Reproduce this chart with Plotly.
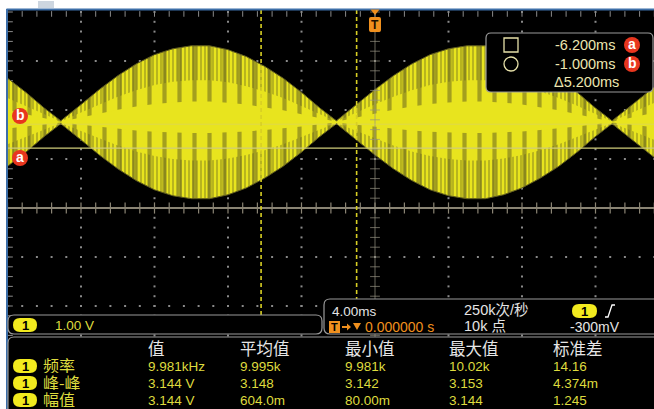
import plotly.graph_objects as go

# ---- channel 1 trace: envelope of the beat signal (ms, volts) ----
TIME_MS = [-20, -19, -18, -17.1, -16, -15, -14, -13, -12, -11, -10, -9, -8, -7, -6,
           -5, -4, -3, -2.1, -1, 0, 1, 2, 3, 4, 5, 6, 7, 8, 9, 10, 11, 12, 12.9,
           14, 15, 15.2]
HALF_AMP_V = [0.90, 0.61, 0.29, 0.03, 0.36, 0.67, 0.95, 1.19, 1.38, 1.50, 1.56,
              1.56, 1.48, 1.34, 1.14, 0.90, 0.61, 0.29, 0.03, 0.36, 0.67, 0.95,
              1.19, 1.38, 1.50, 1.56, 1.56, 1.48, 1.34, 1.14, 0.90, 0.61, 0.29,
              0.03, 0.36, 0.67, 0.72]
TRACE_CENTER_V = 1.75

# ---- cursors ----
CURSOR_A_MS = -6.2
CURSOR_B_MS = -1.0
CURSOR_A_V = 1.22
CURSOR_B_V = 1.71
CURSOR_TEXT = ["-6.200ms", "-1.000ms", "Δ5.200ms"]

# ---- scope settings ----
VOLTS_PER_DIV = "1.00 V"
TIME_PER_DIV = "4.00ms"
SAMPLE_RATE = "250k次/秒"
RECORD_LEN = "10k 点"
TRIG_POS = "0.000000 s"
TRIG_LEVEL = "-300mV"

# ---- measurement table ----
MEAS_COLUMNS = ["值", "平均值", "最小值", "最大值", "标准差"]
MEAS_LABELS = ["频率", "峰-峰", "幅值"]
MEAS_VALUES = [
    ["9.981kHz", "9.995k", "9.981k", "10.02k", "14.16"],
    ["3.144 V", "3.148", "3.142", "3.153", "4.374m"],
    ["3.144 V", "604.0m", "80.00m", "3.144", "1.245"],
]

W, H = 654, 409
YEL = "#e8e41e"
DARK = "#5e5a1e"
TXT_Y = "#dedb3e"
ORANGE = "#f0901e"
GREY_T = "#e4e4e4"
FONT = "Liberation Sans, Noto Sans CJK SC, sans-serif"
CJK = "Noto Sans CJK SC, sans-serif"


def px(x):
    return x / W


def py(y):
    return 1 - y / H


def rrect(x0, y0, x1, y1, r):
    pts = [("M", x0 + r, y0), ("L", x1 - r, y0), ("Q", x1, y0, x1, y0 + r),
           ("L", x1, y1 - r), ("Q", x1, y1, x1 - r, y1), ("L", x0 + r, y1),
           ("Q", x0, y1, x0, y1 - r), ("L", x0, y0 + r), ("Q", x0, y0, x0 + r, y0)]
    s = ""
    for p in pts:
        cmd = p[0]
        coords = p[1:]
        parts = []
        for i in range(0, len(coords), 2):
            parts.append(f"{px(coords[i]):.5f},{py(coords[i + 1]):.5f}")
        s += cmd + " " + " ".join(parts) + " "
    return s + "Z"


def poly(points, close=True):
    s = "M " + " L ".join(f"{px(x):.5f},{py(y):.5f}" for x, y in points)
    return s + (" Z" if close else "")


fig = go.Figure()

# ---- graticule dots ----
major_t = [-16, -12, -8, -4, 4, 8, 12]
major_v = [-3, -2, -1, 1, 2, 3]
gx, gy = [], []
for t in major_t:
    for k in range(-20, 21):
        gx.append(t)
        gy.append(k * 0.2)
for v in major_v:
    for k in range(-25, 26):
        gx.append(k * 0.8)
        gy.append(v)
fig.add_trace(go.Scatter(x=gx, y=gy, mode="markers",
                         marker=dict(symbol="square", size=2, color="#8a8a8a"),
                         hoverinfo="skip"))
# border ticks (top edge and left edge)
bx = [k * 0.8 for k in range(-25, 26)]
fig.add_trace(go.Scatter(x=bx, y=[3.96] * len(bx), mode="markers",
                         marker=dict(symbol="line-ns", size=4, line=dict(width=1, color="#8a8a8a")),
                         hoverinfo="skip"))
lv = [k * 0.2 for k in range(-20, 21)]
fig.add_trace(go.Scatter(x=[-19.9] * len(lv), y=lv, mode="markers",
                         marker=dict(symbol="line-ew", size=5, line=dict(width=1, color="#8a8a8a")),
                         hoverinfo="skip"))

# ---- waveform ----
up = [TRACE_CENTER_V + h for h in HALF_AMP_V]
lo = [TRACE_CENTER_V - h for h in HALF_AMP_V]
fig.add_trace(go.Scatter(x=TIME_MS, y=lo, mode="lines", line=dict(color=DARK, width=1),
                         hoverinfo="skip"))
fig.add_trace(go.Scatter(x=TIME_MS, y=up, mode="lines", line=dict(color=DARK, width=1),
                         fill="tonexty", fillcolor=YEL,
                         fillpattern=dict(shape="|", size=15, solidity=0.28,
                                          fgcolor=DARK, fillmode="overlay"),
                         hoverinfo="skip"))
# dense shading near the upper and lower edges
for a, b in [(0.55, 1.0), (-1.0, -0.5)]:
    fig.add_trace(go.Scatter(x=TIME_MS, y=[TRACE_CENTER_V + a * h for h in HALF_AMP_V],
                             mode="lines", line=dict(width=0), hoverinfo="skip"))
    fig.add_trace(go.Scatter(x=TIME_MS, y=[TRACE_CENTER_V + b * h for h in HALF_AMP_V],
                             mode="lines", line=dict(width=0), fill="tonexty",
                             fillcolor="rgba(0,0,0,0)",
                             fillpattern=dict(shape="|", size=4, solidity=0.35,
                                              fgcolor=DARK, fillmode="overlay"),
                             hoverinfo="skip"))
# bright core
fig.add_trace(go.Scatter(x=TIME_MS, y=[TRACE_CENTER_V - 0.14 * h for h in HALF_AMP_V],
                         mode="lines", line=dict(width=0), hoverinfo="skip"))
fig.add_trace(go.Scatter(x=TIME_MS, y=[TRACE_CENTER_V + 0.27 * h for h in HALF_AMP_V],
                         mode="lines", line=dict(width=0), fill="tonexty", fillcolor=YEL,
                         hoverinfo="skip"))

# ---- centre cross lines with minor ticks ----
fig.add_trace(go.Scatter(x=[-20.1, 15.3], y=[0, 0], mode="lines",
                         line=dict(color="#8a8474", width=2), hoverinfo="skip"))
fig.add_trace(go.Scatter(x=bx, y=[0] * len(bx), mode="markers",
                         marker=dict(symbol="line-ns", size=8, line=dict(width=1.2, color="#8a8474")),
                         hoverinfo="skip"))
fig.add_trace(go.Scatter(x=[0, 0], y=[-4.2, 4.1], mode="lines",
                         line=dict(color="rgba(150,145,130,0.7)", width=1), hoverinfo="skip"))
fig.add_trace(go.Scatter(x=[0] * len(lv), y=lv, mode="markers",
                         marker=dict(symbol="line-ew", size=7, line=dict(width=1, color="rgba(150,145,130,0.7)")),
                         hoverinfo="skip"))

shapes = []
ann = []


def text(x, y, s, color=GREY_T, size=14, family=FONT, anchor="left", bold=False, box_h=None):
    if bold:
        s = "<b>" + s + "</b>"
    a = dict(x=px(x), y=py(y), xref="paper", yref="paper", text=s, showarrow=False,
             xanchor=anchor, yanchor="middle",
             font=dict(color=color, size=size, family=family))
    if box_h is not None:
        a.update(height=box_h, valign="middle", borderpad=0)
    ann.append(a)


# horizontal cursor lines
shapes.append(dict(type="line", xref="paper", yref="y", x0=px(7), x1=1, y0=CURSOR_A_V,
                   y1=CURSOR_A_V, line=dict(color="#cfcc7a", width=1.2)))
shapes.append(dict(type="line", xref="paper", yref="y", x0=px(7), x1=1, y0=CURSOR_B_V,
                   y1=CURSOR_B_V, line=dict(color="rgba(210,205,130,0.45)", width=1)))
# vertical cursor lines
for t, ybot in [(CURSOR_A_MS, 315), (CURSOR_B_MS, 300)]:
    shapes.append(dict(type="line", xref="x", yref="paper", x0=t, x1=t, y0=py(10), y1=py(ybot),
                       line=dict(color="#d8cf24", width=1.6, dash="4px,3px")))

# frame: white margins and blue bezel lines
shapes.append(dict(type="rect", xref="paper", yref="paper", x0=0, x1=1, y0=py(9), y1=1,
                   fillcolor="white", line=dict(width=0)))
shapes.append(dict(type="rect", xref="paper", yref="paper", x0=0, x1=px(6.5), y0=0, y1=1,
                   fillcolor="white", line=dict(width=0)))
shapes.append(dict(type="rect", xref="paper", yref="paper", x0=px(38), x1=px(54), y0=py(8),
                   y1=py(1), fillcolor="#cdd6e0", line=dict(width=0)))
shapes.append(dict(type="line", xref="paper", yref="paper", x0=px(6.5), x1=1, y0=py(9.5),
                   y1=py(9.5), line=dict(color="#3c6ea8", width=2)))
shapes.append(dict(type="line", xref="paper", yref="paper", x0=px(7), x1=px(7), y0=py(9),
                   y1=0, line=dict(color="#3c6ea8", width=2)))

# trigger position marker
shapes.append(dict(type="path", xref="paper", yref="paper",
                   path=poly([(370.5, 9.5), (379.5, 9.5), (375, 15)]),
                   fillcolor=ORANGE, line=dict(width=0)))
shapes.append(dict(type="path", xref="paper", yref="paper", path=rrect(369, 17, 381, 32, 2),
                   fillcolor=ORANGE, line=dict(width=0)))
text(375, 25, "T", color="#201000", size=12, anchor="center", bold=True)

# cursor readout box
shapes.append(dict(type="path", xref="paper", yref="paper", path=rrect(486, 33, 653, 92, 5),
                   fillcolor="black", line=dict(color="#9a9a9a", width=1.2)))
shapes.append(dict(type="rect", xref="paper", yref="paper", x0=px(504), x1=px(518),
                   y0=py(52), y1=py(38), line=dict(color="#e6e0a8", width=1.3)))
shapes.append(dict(type="circle", xref="paper", yref="paper", x0=px(504), x1=px(518),
                   y0=py(71), y1=py(57), line=dict(color="#e6e0a8", width=1.3)))
CUR_Y = [45, 64, 82]
for i, s in enumerate(CURSOR_TEXT):
    text(553 if i < 2 else 552, CUR_Y[i], s, color="#ece6b0", size=14.5)


def badge(cx, cy, letter):
    shapes.append(dict(type="circle", xref="paper", yref="paper", x0=px(cx - 8), x1=px(cx + 8),
                       y0=py(cy + 8), y1=py(cy - 8), fillcolor="#e8361e", line=dict(width=0)))
    text(cx, cy - 1, letter, color="white", size=14, anchor="center", bold=True)


badge(632, 45, "a")
badge(632, 64, "b")
badge(20, 116, "b")
badge(20, 158, "a")


def pill(x0, cy, w=24, h=14):
    shapes.append(dict(type="path", xref="paper", yref="paper",
                       path=rrect(x0, cy - h / 2, x0 + w, cy + h / 2, h / 2),
                       fillcolor="#f2ea1e", line=dict(width=0)))
    text(x0 + w / 2, cy, "1", color="black", size=13, anchor="center", bold=True)


# vertical scale box
shapes.append(dict(type="path", xref="paper", yref="paper", path=rrect(8, 315, 322, 334, 6),
                   fillcolor="black", line=dict(color="#9a9a9a", width=1.2)))
pill(13, 325)
text(53, 325, VOLTS_PER_DIV, color=TXT_Y, size=13.5)

# horizontal / trigger box
shapes.append(dict(type="path", xref="paper", yref="paper", path=rrect(324, 299, 664, 334, 6),
                   fillcolor="black", line=dict(color="#9a9a9a", width=1.2)))
text(330, 311, TIME_PER_DIV, size=13.5)
text(462, 310, SAMPLE_RATE, size=14.5)
pill(572, 311, w=25)
shapes.append(dict(type="path", xref="paper", yref="paper",
                   path=poly([(605, 317), (608, 317), (612, 305), (615, 305)], close=False),
                   line=dict(color="white", width=1.3)))
# trigger-position indicator: T box, arrow and down marker
shapes.append(dict(type="rect", xref="paper", yref="paper", x0=px(329), x1=px(340),
                   y0=py(333), y1=py(321), fillcolor=ORANGE, line=dict(width=0)))
text(334.5, 327, "T", color="black", size=11, anchor="center", bold=True)
shapes.append(dict(type="line", xref="paper", yref="paper", x0=px(342), x1=px(348),
                   y0=py(327), y1=py(327), line=dict(color=ORANGE, width=2)))
shapes.append(dict(type="path", xref="paper", yref="paper",
                   path=poly([(347, 323.5), (351, 327), (347, 330.5)]),
                   fillcolor=ORANGE, line=dict(width=0)))
shapes.append(dict(type="path", xref="paper", yref="paper",
                   path=poly([(353, 323), (361, 323), (357, 330)]),
                   fillcolor=ORANGE, line=dict(width=0)))
text(363, 327, TRIG_POS, color=ORANGE, size=14)
text(462, 326, RECORD_LEN, size=14.5)
text(568, 327, TRIG_LEVEL, size=14)

# measurement panel
shapes.append(dict(type="path", xref="paper", yref="paper", path=rrect(8, 337, 664, 420, 6),
                   fillcolor="black", line=dict(color="#9a9a9a", width=1.2)))
COL_X = [146, 238, 343, 447, 551]
ROW_Y = [366, 383, 400]
for cx, name in zip(COL_X, MEAS_COLUMNS):
    text(cx, 348, name, color="#e6e6e6", size=16.5, family=CJK)
for ry, lab, vals in zip(ROW_Y, MEAS_LABELS, MEAS_VALUES):
    pill(13, ry)
    text(42, ry - 1, lab, color=TXT_Y, size=16, family=CJK, box_h=16)
    for cx, v in zip(COL_X, vals):
        text(cx, ry, v, color=TXT_Y, size=13.5)

fig.update_layout(
    width=W, height=H, margin=dict(l=0, r=0, t=0, b=0),
    paper_bgcolor="white", plot_bgcolor="black", showlegend=False,
    hovermode=False,
    xaxis=dict(domain=[px(7), 1], range=[(7 - 375) / 18.375, (654 - 375) / 18.375],
               visible=False, fixedrange=True),
    yaxis=dict(domain=[0, py(10)], range=[(208 - 409) / 49, (208 - 10) / 49],
               visible=False, fixedrange=True),
    shapes=shapes, annotations=ann,
)

fig.write_html("out.html")
